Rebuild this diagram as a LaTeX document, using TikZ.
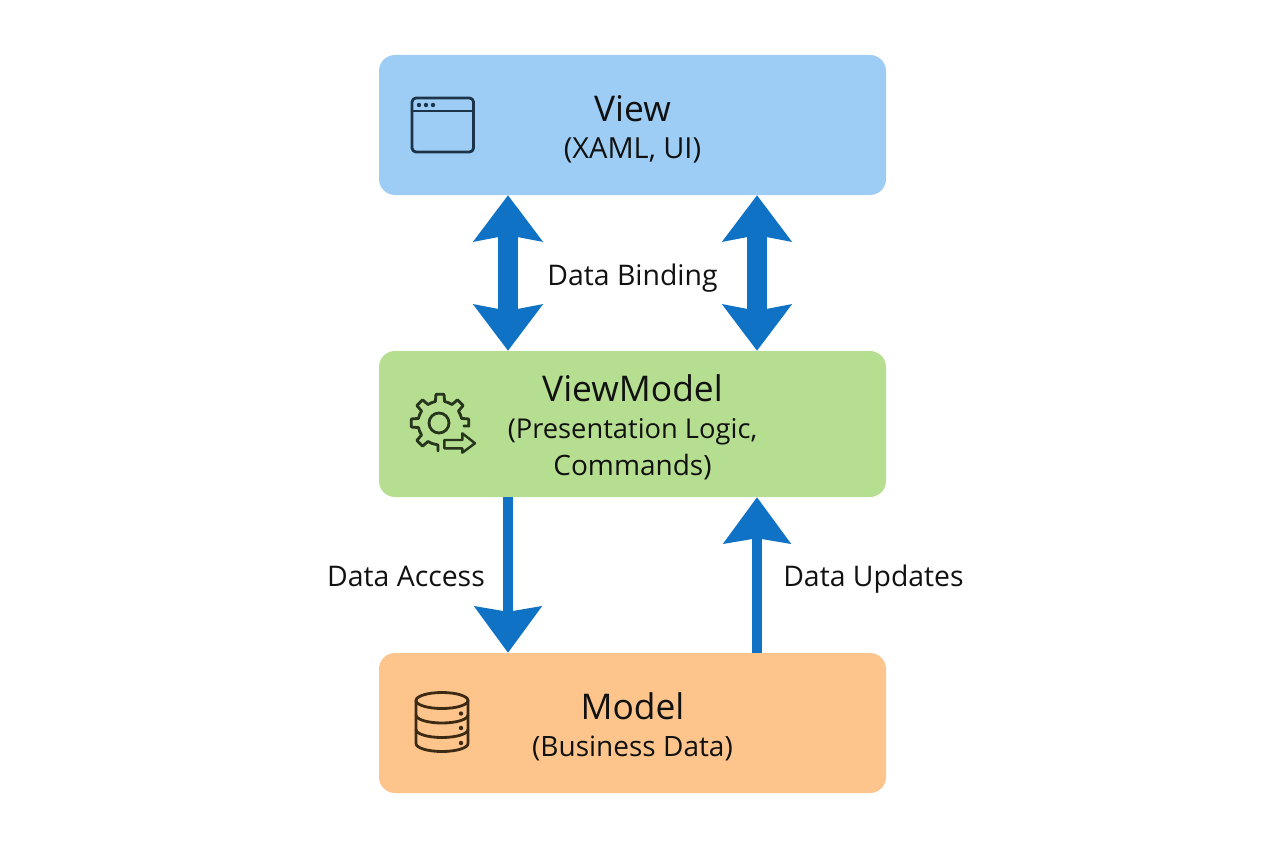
\documentclass[tikz,border=0pt]{standalone}
\usepackage{fontspec}
\setmainfont{Open Sans}
\usetikzlibrary{arrows.meta}
\definecolor{viewblue}{HTML}{9DCDF5}
\definecolor{vmgreen}{HTML}{B5DE90}
\definecolor{modelorange}{HTML}{FDC58C}
\definecolor{arrowblue}{HTML}{0F72C5}
\definecolor{inkblue}{HTML}{1C3449}
\definecolor{inkgreen}{HTML}{26351C}
\definecolor{inkbrown}{HTML}{3D2A14}
\definecolor{textblack}{HTML}{111111}
\tikzset{
    layer/.style={rounded corners=16pt,minimum width=507pt,align=center,text=textblack,inner sep=0pt,font=\fontsize{28}{37}\selectfont},
    lbl/.style={text=textblack,font=\fontsize{28.4}{32}\selectfont,inner sep=0pt,anchor=base},
    bothway/.style={arrowblue,line width=20pt,{Stealth[length=46pt,width=68pt,inset=6pt]}-{Stealth[length=46pt,width=68pt,inset=6pt]}},
    oneway/.style={arrowblue,line width=10.5pt,-{Stealth[length=46pt,width=66pt,inset=5pt]}},
    icon/.style={line width=2.8pt,line join=round,line cap=round},
}
\newcommand{\bigtxt}{\fontsize{35.4}{42}\selectfont\rule{0pt}{34pt}}
\begin{document}
\begin{tikzpicture}[x=1pt,y=-1pt]
            \useasboundingbox (0,0) rectangle (1264,848);
            \node [layer,fill=viewblue,minimum height=140pt] (view) at (632.5,125)
                {{\bigtxt View}\\{\fontsize{29}{37}\selectfont (XAML, UI)}};
            \node [layer,fill=vmgreen,minimum height=146pt] (viewmodel) at (632.5,424)
                {{\bigtxt ViewModel}\\{\fontsize{27.3}{37}\selectfont (Presentation Logic,}\\Commands)};
            \node [layer,fill=modelorange,minimum height=140pt] (model) at (632.5,723)
                {{\bigtxt Model}\\(Business Data)};
            % arrows
            \coordinate (leftx) at (508,0);
            \coordinate (rightx) at (757,0);
            \draw [bothway] (view.south -| leftx) -- (viewmodel.north -| leftx);
            \draw [bothway] (view.south -| rightx) -- (viewmodel.north -| rightx);
            \draw [oneway] (viewmodel.south -| leftx) -- (model.north -| leftx);
            \draw [oneway] (model.north -| rightx) -- (viewmodel.south -| rightx);
            \node [lbl] (binding) at (632.5,285) {Data Binding};
            \node [lbl] (access) at (406,586) {Data Access};
            \node [lbl] (updates) at (873.5,586) {Data Updates};
            % window icon
            \draw [icon,inkblue,rounded corners=4pt] (412,98) rectangle (473.5,152);
            \draw [icon,inkblue] (412,111) -- (473.5,111);
            \foreach \dotx in {419,426,433}
                \fill [inkblue] (\dotx,105) circle (2.2pt);
            % gear icon
            \begin{scope}[shift={(440,423)},icon,inkgreen]
                \draw (-1,0) circle (10pt);
                \draw (-2,28) -- (-2,22) -- (90+22:22);
                \foreach \ang in {135,180,225,270,315} {
                    \draw (\ang-23:22) -- (\ang-12:22) -- (\ang-8:29) -- (\ang+8:29) -- (\ang+12:22) -- (\ang+23:22);
                }
                \draw (360-23:22) -- (360-12:22) -- (360-8:29) -- (360+6:29) -- (360+7:24);
            \end{scope}
            \draw [icon,inkgreen,line width=2.4pt] (444.3,440) -- (462.3,440) -- (462.3,433.3) -- (475,443.3) -- (462.3,452.7) -- (462.3,448.3) -- (444.3,448.3) -- cycle;
            % database icon
            \begin{scope}[icon,inkbrown]
                \draw (442,700.5) ellipse (26pt and 8pt);
                \draw (416,700.5) -- (416,743.5) arc (180:360:26pt and 8pt) -- (468,700.5);
                \draw (416,715) arc (180:360:26pt and 8pt);
                \draw (416,729.5) arc (180:360:26pt and 8pt);
                \foreach \doty in {713.5,728,743}
                    \fill (461,\doty) circle (2.2pt);
            \end{scope}
        \end{tikzpicture}
\end{document}
